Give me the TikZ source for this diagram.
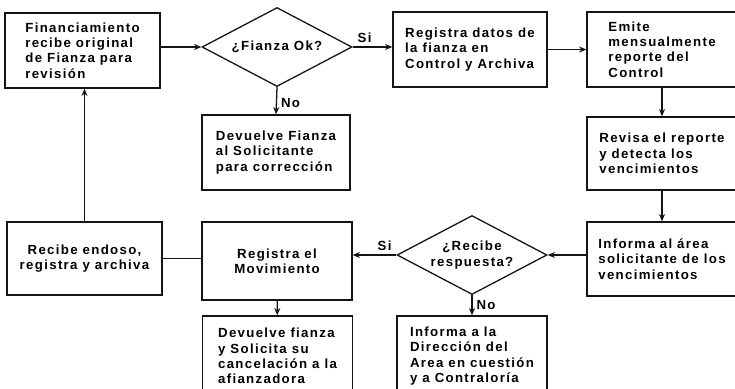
\documentclass[tikz,border=0pt]{standalone}
\usepackage{fontspec}
\setmainfont{Liberation Sans}[LetterSpace=10]
\usetikzlibrary{arrows.meta,positioning,shapes.geometric}
\definecolor{flowline}{RGB}{20,20,20}

\begin{document}
\begin{tikzpicture}[
  x=0.03cm, y=-0.03cm,
  box/.style={
    draw=flowline,
    line width=1.1pt,
    align=left,
    minimum width=4.5cm,
    minimum height=2.25cm,
    inner sep=2pt
  },
  decision/.style={
    draw=flowline,
    line width=1.1pt,
    diamond,
    aspect=1.9,
    align=center,
    minimum width=4.5cm,
    minimum height=2.37cm,
    inner sep=0pt
  },
  arrow/.style={-{Stealth[length=2.2mm,width=1.8mm]}, line width=1.1pt, draw=flowline},
  link/.style={line width=1.1pt, draw=flowline},
  every node/.style={font=\bfseries\fontsize{11.3}{13.2}\selectfont}
]
\useasboundingbox (0,0) rectangle (735,388);
\clip (0,0) rectangle (735,388);

\node[box, minimum width=4.65cm] (recibeorig) at (82.5,50.5)
  {Financiamiento\\recibe original\\de Fianza para\\revisión};
\node[decision] (fianzaok) at (277,47) {¿Fianza Ok?};
\node[box, minimum width=4.44cm] (devuelvesol) at (276,152.5)
  {Devuelve Fianza\\al Solicitante\\para corrección};
\node[box, minimum width=4.62cm] (registradatos) at (470,49.5)
  {Registra datos de\\la fianza en\\Control y Archiva};
\node[box] (emitereporte) at (662,49.5)
  {Emite\\mensualmente\\reporte del\\Control};
\node[box, minimum height=2.19cm] (revisareporte) at (662,153.5)
  {Revisa el reporte\\y detecta los\\vencimientos};
\node[box, minimum height=2.22cm] (informaarea) at (662,259)
  {Informa al área\\solicitante de los\\vencimientos};
\node[decision] (reciberesp) at (472,255) {¿Recibe\\respuesta?};
\node[box, align=center, minimum height=2.34cm] (registramov) at (277,261)
  {Registra el\\Movimiento};
\node[box, align=center, minimum width=4.65cm, minimum height=2.19cm] (recibeendoso) at (84.5,258.5)
  {Recibe endoso,\\registra y archiva};
\node[box, minimum height=2.4cm] (devuelvecanc) at (277.5,356)
  {Devuelve fianza\\y Solicita su\\cancelación a la\\afianzadora};
\node[box, minimum height=2.4cm] (informadir) at (472,356)
  {Informa a la\\Dirección del\\Area en cuestión\\y a Contraloría};

\draw[arrow] (recibeorig.east |- fianzaok.west) -- (fianzaok.west);
\draw[arrow] (fianzaok.east) -- node[above, pos=0.3] {Si} (registradatos.west |- fianzaok.east);
\draw[arrow] (fianzaok.south) -- node[right, yshift=-2pt] {No} (devuelvesol.north);
\draw[arrow] (registradatos) -- (emitereporte);
\draw[arrow] (emitereporte) -- (revisareporte);
\draw[arrow] (revisareporte) -- (informaarea);
\draw[arrow] (informaarea.west |- reciberesp.east) -- (reciberesp.east);
\draw[arrow] (reciberesp.west) -- node[above, pos=0.27] {Si} (registramov.east |- reciberesp.west);
\draw[arrow] (reciberesp.south) -- node[right] {No} (informadir.north);
\draw[arrow] (registramov) -- (devuelvecanc);
\draw[link] (registramov.west |- recibeendoso.east) -- (recibeendoso.east);
\draw[arrow] (recibeendoso.north) -- (recibeendoso.north |- recibeorig.south);
\end{tikzpicture}
\end{document}
